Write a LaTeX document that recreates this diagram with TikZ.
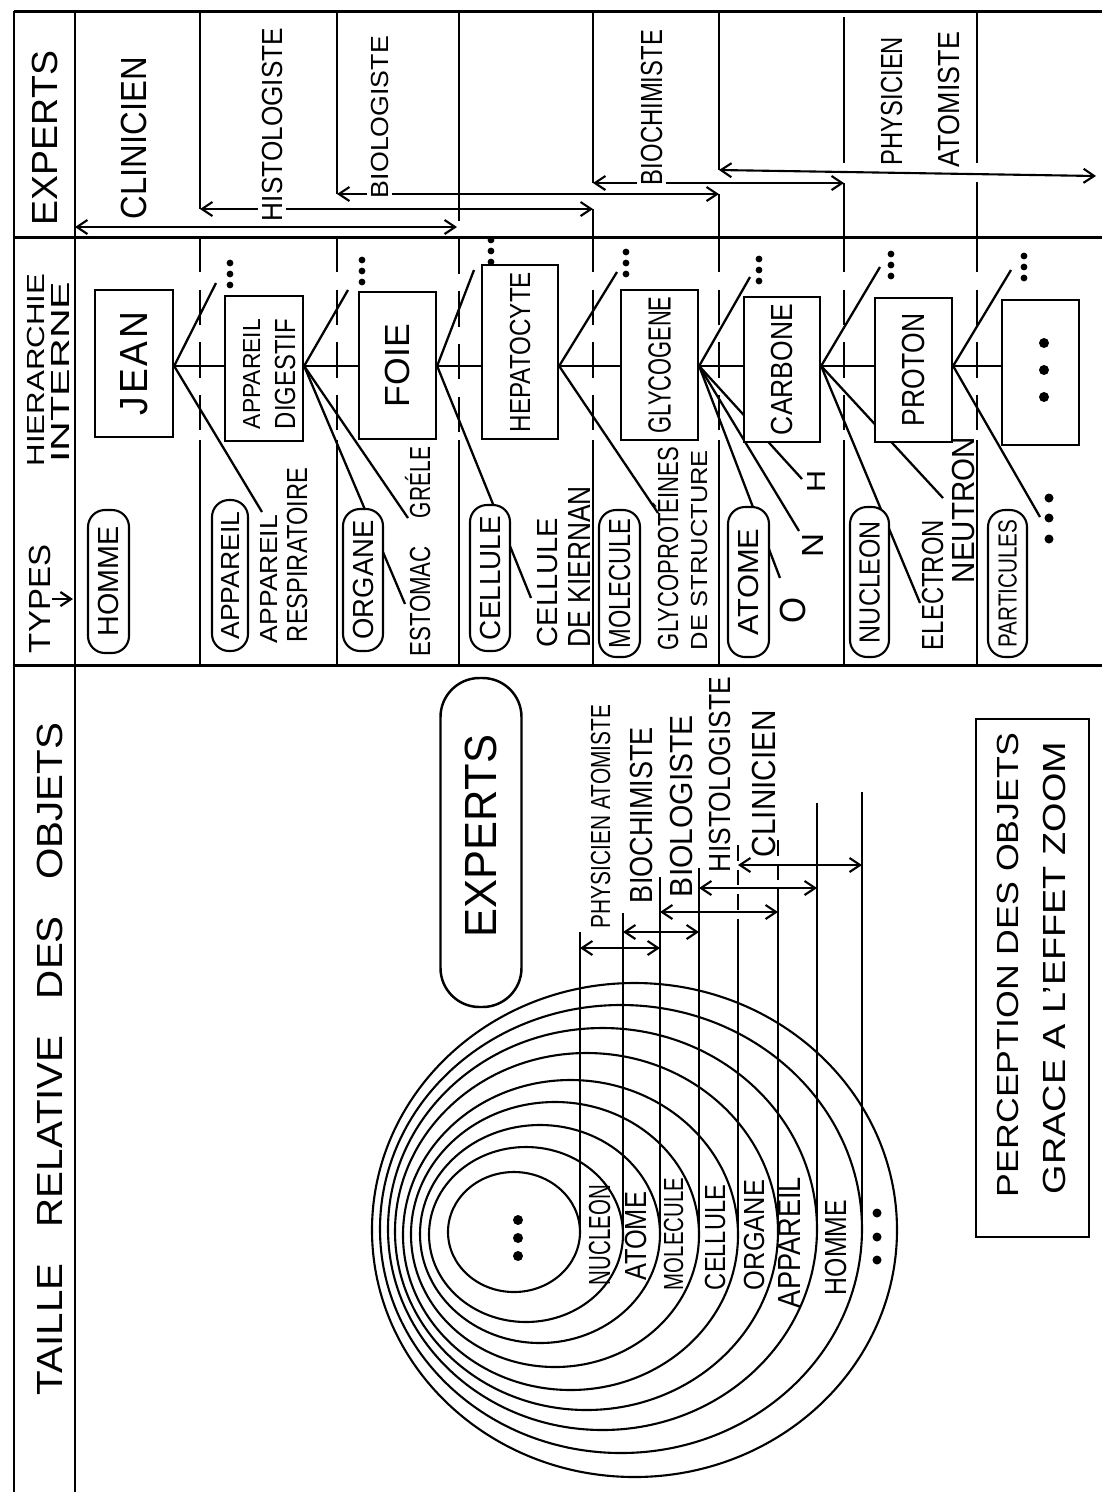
\documentclass[tikz,border=0pt]{standalone}
\usepackage{fontspec}
\setmainfont{Liberation Sans}
\usepackage{graphicx}
\usetikzlibrary{arrows.meta}
\newdimen\pxu
\pxu=0.02cm
\newcommand\T[3]{\resizebox{#1\pxu}{#2\pxu}{\raisebox{0pt}[\fontcharht\font`X][0pt]{#3}}}
\pgfdeclarelayer{back}
\pgfdeclarelayer{bg}
\pgfsetlayers{back,bg,main}
\tikzset{
  lbl/.style={rotate=90, anchor=base, inner sep=0pt},
  wlbl/.style={rotate=90, anchor=base, inner sep=2pt, fill=white},
  ctr/.style={rotate=90, inner sep=0pt},
  hbox/.style={draw, line width=1.3pt, fill=white, inner sep=0pt},
  pill/.style={draw, line width=1.2pt, fill=white, inner sep=0pt, rounded corners=17\pxu},
  conn/.style={line width=1.3pt},
  frame/.style={line width=1.7pt},
  dv/.style={line width=1.4pt},
  dvd/.style={line width=1.4pt, dash pattern=on 20pt off 10pt},
  arr/.style={line width=1.2pt, <->},
  ring/.style={line width=1.2pt},
}
\begin{document}
\begin{tikzpicture}[x=0.02cm, y=-0.02cm, >={Straight Barb[length=6pt,width=8pt]}]
\useasboundingbox (0,0) rectangle (1102,1492);
\begin{pgfonlayer}{back}
\fill[white] (0,0) rectangle (1102,1492);
\end{pgfonlayer}

% ---------------- frame
\draw[frame] (14,11) -- (1102,11);
\draw[frame] (14,11) -- (14,1492);
\draw[frame] (75,11) -- (75,1492);
\draw[frame] (14,237) -- (1102,237);
\draw[frame] (14,665) -- (1102,665);

% ---------------- header column
\node[lbl] (hExp) at (57,138) {\T{174}{25}{EXPERTS}};
\node[lbl] (hHier) at (45,370) {\T{193}{17}{HIERARCHIE}};
\node[lbl] (hInt) at (69,372) {\T{181}{18}{INTERNE}};
\node[lbl] (hTyp) at (50,599) {\T{108}{21}{TYPES}};
\coordinate (typEnd) at (73,599);
\draw[conn,->] (hTyp.south) ++(2,0) -- (typEnd);
\node[lbl] (hTaille) at (62,1059) {\T{672}{25}{TAILLE\hspace{0.9em}RELATIVE\hspace{0.9em}DES\hspace{0.9em}OBJETS}};

% ---------------- experts band dividers
\draw[dv] (200,11) -- (200,209);
\draw[dv] (337,11) -- (337,194);
\draw[dv] (459,11) -- (459,186);
\draw[dvd] (459,186) -- (459,440);
\draw[dv] (593,11) -- (593,183);
\draw[dv] (593,209) -- (593,237);
\draw[dv] (719,11) -- (719,170);
\draw[dv] (719,194) -- (719,237);
\draw[dv] (844,17) -- (844,163);
\draw[dv] (844,183) -- (844,237);
\draw[dv] (977,13) -- (977,163);
\draw[dv] (977,182) -- (977,237);
\foreach \xx in {200,337,593,719,844,977} {
  \draw[dvd] (\xx,237) -- (\xx,440);
  \draw[dv] (\xx,440) -- (\xx,665);
}
\draw[dv] (459,440) -- (459,665);

% ---------------- experts band arrows
\coordinate (cl1) at (75,227);  \coordinate (cl2) at (457,227);
\coordinate (hi1) at (200,209); \coordinate (hi2) at (593,209);
\coordinate (bi1) at (337,194); \coordinate (bi2) at (719,194);
\coordinate (bc1) at (593,183); \coordinate (bc2) at (844,183);
\coordinate (ph1) at (719,170); \coordinate (ph2) at (1096,176);
\draw[arr] (cl1) -- (cl2);
\draw[arr] (hi1) -- (hi2);
\draw[arr] (bi1) -- (bi2);
\draw[arr] (bc1) -- (bc2);
\draw[arr] (ph1) -- (ph2);

\node[lbl] (eClin) at (146,138) {\T{162}{25}{CLINICIEN}};
\node[wlbl] (eHist) at (282,124.5) {\T{193}{20}{HISTOLOGISTE}};
\node[wlbl] (eBiol) at (388,117) {\T{162}{17}{BIOLOGISTE}};
\node[wlbl] (eBioch) at (662,107.5) {\T{155}{21}{BIOCHIMISTE}};
\node[lbl] (ePhys) at (902,101) {\T{128}{21}{PHYSICIEN}};
\node[lbl] (eAtom) at (959,99.5) {\T{135}{21}{ATOMISTE}};

% ---------------- hierarchy boxes
\coordinate (lvl) at (0,366);
\node[hbox, minimum width=78\pxu, minimum height=147\pxu] (jean) at (134,363.5) {};
\node[ctr] (jeanT) at (jean.center) {\T{104}{27}{J\kern.08em E\kern.08em A\kern.08em N}};
\node[hbox, minimum width=78\pxu, minimum height=145\pxu] (appdig) at (264,368.5) {};
\node[lbl] (appdigT1) at (260,374) {\T{110}{17}{APPAREIL}};
\node[lbl] (appdigT2) at (295,374) {\T{110}{20}{DIGESTIF}};
\node[hbox, minimum width=77\pxu, minimum height=147\pxu] (foie) at (397.5,365.5) {};
\node[ctr] (foieT) at (foie.center) {\T{83}{24}{FOIE}};
\node[hbox, minimum width=76\pxu, minimum height=174\pxu] (hepato) at (520,352) {};
\node[ctr] (hepatoT) at (hepato.center) {\T{160}{20}{HEPATOCYTE}};
\node[hbox, minimum width=77\pxu, minimum height=150\pxu] (glyco) at (659.5,365) {};
\node[ctr] (glycoT) at (glyco.center) {\T{137}{22}{GLYCOGENE}};
\node[hbox, minimum width=76\pxu, minimum height=145\pxu] (carbone) at (782,369.5) {};
\node[ctr] (carboneT) at (carbone.center) {\T{131}{21}{CARBONE}};
\node[hbox, minimum width=77\pxu, minimum height=144\pxu] (proton) at (913.5,370) {};
\node[ctr] (protonT) at (proton.center) {\T{113}{22}{PROTON}};
\node[hbox, minimum width=77\pxu, minimum height=145\pxu] (dotsbox) at (1040.5,372.5) {};
\foreach \yy in {343,370,397} \fill (1044,\yy) circle[radius=5];

% ---------------- type pills
\node[pill, minimum width=41\pxu, minimum height=143\pxu] (pHomme) at (108.5,581.5) {};
\node[ctr] at (pHomme.center) {\T{110}{20}{HOMME}};
\node[pill, minimum width=36\pxu, minimum height=151\pxu] (pApp) at (230,575.5) {};
\node[ctr] at (pApp.center) {\T{128}{18}{APPAREIL}};
\node[pill, minimum width=40\pxu, minimum height=142\pxu] (pOrg) at (363,580) {};
\node[ctr] at (pOrg.center) {\T{119}{20}{ORGANE}};
\node[pill, minimum width=40\pxu, minimum height=146\pxu] (pCell) at (490,578) {};
\node[ctr] at (pCell.center) {\T{124}{20}{CELLULE}};
\node[pill, minimum width=41\pxu, minimum height=147\pxu] (pMol) at (619.5,583.5) {};
\node[ctr] at (pMol.center) {\T{130}{21}{MOLECULE}};
\node[pill, minimum width=41\pxu, minimum height=150\pxu] (pAtom) at (748.5,582) {};
\node[ctr] at (pAtom.center) {\T{107}{20}{ATOME}};
\node[pill, minimum width=39\pxu, minimum height=150\pxu] (pNucl) at (869.5,582) {};
\node[ctr] at (pNucl.center) {\T{122}{20}{NUCLEON}};
\node[pill, minimum width=39\pxu, minimum height=147\pxu] (pPart) at (1007.5,583.5) {};
\node[ctr] at (pPart.center) {\T{128}{18}{PARTICULES}};

% ---------------- instance labels
\node[lbl] (lApp) at (277,579) {\T{128}{17}{APPAREIL}};
\node[lbl] (lResp) at (307,555) {\T{174}{20}{RESPIRATOIRE}};
\node[lbl] (lEst) at (430,601) {\T{110}{20}{ESTOMAC}};
\node[lbl] (lGre) at (430,482.5) {\T{71}{20}{GRÉLE}};
\node[lbl] (lCel) at (557,582.5) {\T{129}{20}{CELLULE}};
\node[lbl] (lKie) at (590,566.5) {\T{161}{22}{DE KIERNAN}};
\node[lbl] (lGlp) at (678,548.5) {\T{203}{20}{GLYCOPROTÉINES}};
\node[lbl] (lStr) at (707,550) {\T{200}{16}{DE STRUCTURE}};
\node[lbl] (lO) at (805,610) {\T{26}{25}{O}};
\node[lbl] (lN) at (823,545) {\T{24}{21}{N}};
\node[lbl] (lH) at (825,481) {\T{22}{18}{H}};
\node[lbl] (lEl) at (943,585) {\T{130}{21}{ELECTRON}};
\node[lbl] (lNe) at (974,510) {\T{146}{22}{NEUTRON}};

% connector end points
\coordinate (jUp) at (216,283);  \coordinate (jRes) at (262,512);
\coordinate (aUp) at (348,290);  \coordinate (aEst) at (405,604); \coordinate (aGre) at (408,518);
\coordinate (fUp) at (474,270);  \coordinate (fKie) at (531,598);
\coordinate (hUp) at (617,272);  \coordinate (hGly) at (658,513);
\coordinate (gUp) at (750,277);  \coordinate (gO) at (780,578); \coordinate (gN) at (799,531); \coordinate (gH) at (802,479);
\coordinate (cUp) at (880,267);  \coordinate (cEl) at (920,603); \coordinate (cNe) at (943,498);
\coordinate (pUp) at (1011,270); \coordinate (pDots) at (1040,517);

\begin{pgfonlayer}{bg}
\draw[conn] (jean.east |- lvl) -- (appdig.west |- lvl);
\draw[conn] (jean.east |- lvl) -- (jUp);
\draw[conn] (jean.east |- lvl) -- (jRes);
\draw[conn] (appdig.east |- lvl) -- (foie.west |- lvl);
\draw[conn] (appdig.east |- lvl) -- (aUp);
\draw[conn] (appdig.east |- lvl) -- (aEst);
\draw[conn] (appdig.east |- lvl) -- (aGre);
\draw[conn] (foie.east |- lvl) -- (hepato.west |- lvl);
\draw[conn] (foie.east |- lvl) -- (fUp);
\draw[conn] (foie.east |- lvl) -- (fKie);
\draw[conn] (hepato.east |- lvl) -- (glyco.west |- lvl);
\draw[conn] (hepato.east |- lvl) -- (hUp);
\draw[conn] (hepato.east |- lvl) -- (hGly);
\draw[conn] (glyco.east |- lvl) -- (carbone.west |- lvl);
\draw[conn] (glyco.east |- lvl) -- (gUp);
\draw[conn] (glyco.east |- lvl) -- (gO);
\draw[conn] (glyco.east |- lvl) -- (gN);
\draw[conn] (glyco.east |- lvl) -- (gH);
\draw[conn] (carbone.east |- lvl) -- (proton.west |- lvl);
\draw[conn] (carbone.east |- lvl) -- (cUp);
\draw[conn] (carbone.east |- lvl) -- (cEl);
\draw[conn] (carbone.east |- lvl) -- (cNe);
\draw[conn] (proton.east |- lvl) -- (dotsbox.west |- lvl);
\draw[conn] (proton.east |- lvl) -- (pUp);
\draw[conn] (proton.east |- lvl) -- (pDots);
\end{pgfonlayer}

% sibling dots
\foreach \xx/\ya in {230/263, 362/260, 491/240, 626/252, 759/259, 891/254, 1024/256} {
  \foreach \k in {0,1,2} \fill (\xx,\ya+\k*11) circle[radius=3.4];
}
\foreach \yy in {498,518,539} \fill (1049,\yy) circle[radius=4.5];

% ---------------- TAILLE band
\node[draw, line width=1.4pt, fill=white, rounded corners=39\pxu, minimum width=81\pxu, minimum height=329\pxu, inner sep=0pt] (expPill) at (481,842.5) {};
\node[ctr] (expPillT) at (480.5,836) {\T{202}{31}{EXPERTS}};

% nested circles
\draw[ring] (514,1232) ellipse [x radius=66, y radius=60];
\draw[ring] (526,1234.5) ellipse [x radius=97, y radius=87.5];
\draw[ring] (540,1234) ellipse [x radius=120, y radius=109];
\draw[ring] (555,1234.5) ellipse [x radius=144, y radius=132.5];
\draw[ring] (570.5,1235) ellipse [x radius=167.5, y radius=155];
\draw[ring] (586.5,1231.5) ellipse [x radius=191.5, y radius=178.5];
\draw[ring] (602.5,1229) ellipse [x radius=214.5, y radius=201];
\draw[ring] (621,1229) ellipse [x radius=241, y radius=224];
\draw[ring] (634.5,1230) ellipse [x radius=262.5, y radius=247];

% size lines
\foreach \xx/\yt/\yb in {580/932/1232, 623/913/1234.5, 660/877/1234, 699/868/1234.5, 817/803/1229, 862/792/1229}
  \draw[conn] (\xx,\yt) -- (\xx,\yb);
\draw[conn, dash pattern=on 9pt off 5pt] (738,845) -- (738,925);
\draw[conn] (738,925) -- (738,1235);
\draw[conn, dash pattern=on 9pt off 5pt] (778,840) -- (778,905);
\draw[conn] (778,905) -- (778,1231.5);

% expert ranges
\draw[arr] (580,948) -- (660,948);
\draw[arr] (623,932) -- (699,932);
\draw[arr] (660,912) -- (778,912);
\draw[arr] (699,888) -- (817,888);
\draw[arr] (738,865) -- (862,865);

\node[lbl] (tPhys) at (610,816.5) {\T{223}{19}{PHYSICIEN ATOMISTE}};
\node[lbl] (tBioch) at (652,815) {\T{176}{22}{BIOCHIMISTE}};
\node[lbl] (tBiol) at (692,806) {\T{182}{22}{BIOLOGISTE}};
\node[lbl] (tHist) at (730,774.5) {\T{195}{21}{HISTOLOGISTE}};
\node[lbl] (tClin) at (775,783.5) {\T{147}{23}{CLINICIEN}};

% circle labels
\node[lbl] (cNucl) at (610,1235) {\T{100}{21}{NUCLEON}};
\node[lbl] (cAtom) at (646,1236) {\T{88}{21}{ATOME}};
\node[lbl] (cMol) at (683,1234) {\T{112}{19}{MOLECULE}};
\node[lbl] (cCell) at (725,1237.5) {\T{105}{20}{CELLULE}};
\node[lbl] (cOrg) at (764,1235) {\T{110}{20}{ORGANE}};
\node[lbl] (cApp) at (800,1242.5) {\T{131}{22}{APPAREIL}};
\node[lbl] (cHom) at (846,1247.5) {\T{95}{21}{HOMME}};
\foreach \yy in {1213,1237,1260} \fill (877,\yy) circle[radius=4.5];
\foreach \yy in {1220,1238,1256} \fill (518,\yy) circle[radius=5];

% perception box
\node[draw, line width=1.4pt, minimum width=113\pxu, minimum height=518\pxu, inner sep=0pt] (percBox) at (1032.5,978) {};
\node[lbl] (perc1) at (1018,965) {\T{464}{21}{PERCEPTION DES OBJETS}};
\node[lbl] (perc2) at (1065,968) {\T{452}{22}{GRACE A L’EFFET ZOOM}};
\end{tikzpicture}
\end{document}
